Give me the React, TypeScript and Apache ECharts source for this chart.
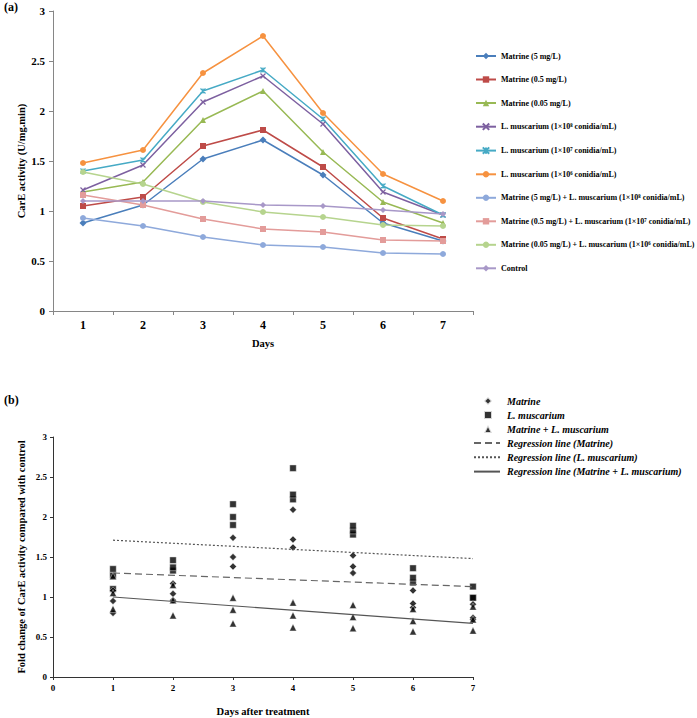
import React, { useEffect, useRef } from "react";
import * as echarts from "echarts";

// ---------- Panel (a) data ----------
const days = ["1", "2", "3", "4", "5", "6", "7"];
const matrine5 = [0.88, 1.06, 1.52, 1.71, 1.36, 0.88, 0.70];
const matrine05 = [1.05, 1.14, 1.65, 1.81, 1.44, 0.93, 0.72];
const matrine005 = [1.19, 1.29, 1.91, 2.20, 1.59, 1.09, 0.88];
const lm8 = [1.21, 1.46, 2.09, 2.35, 1.87, 1.19, 0.96];
const lm7 = [1.40, 1.51, 2.20, 2.41, 1.92, 1.25, 0.96];
const lm6 = [1.48, 1.61, 2.38, 2.75, 1.98, 1.37, 1.10];
const combo8 = [0.93, 0.85, 0.74, 0.66, 0.64, 0.58, 0.57];
const combo7 = [1.16, 1.06, 0.92, 0.82, 0.79, 0.71, 0.70];
const combo6 = [1.39, 1.27, 1.09, 0.99, 0.94, 0.86, 0.85];
const control = [1.10, 1.10, 1.10, 1.06, 1.05, 1.01, 0.97];
const yTicksA = ["0", "0.5", "1", "1.5", "2", "2.5", "3"];

// ---------- Panel (b) data ----------
const dayNumbers = [1, 2, 3, 4, 5, 6, 7];
const foldMatrine = [
  [0.80, 0.95, 1.08],
  [0.96, 1.04, 1.17],
  [1.38, 1.50, 1.74],
  [1.62, 1.72, 2.09],
  [1.30, 1.38, 1.52],
  [0.87, 0.92, 1.08],
  [0.72, 0.74, 0.91],
];
const foldLm = [
  [1.10, 1.27, 1.35],
  [1.33, 1.37, 1.46],
  [1.90, 2.00, 2.16],
  [2.22, 2.28, 2.61],
  [1.78, 1.83, 1.89],
  [1.18, 1.24, 1.36],
  [0.99, 0.99, 1.13],
];
const foldCombo = [
  [0.85, 1.05, 1.26],
  [0.77, 0.96, 1.15],
  [0.67, 0.84, 0.99],
  [0.62, 0.77, 0.93],
  [0.61, 0.75, 0.90],
  [0.57, 0.70, 0.85],
  [0.58, 0.72, 0.88],
];
const regDays = [1, 7];
const regMatrine = [1.30, 1.13];
const regLm = [1.71, 1.48];
const regCombo = [1.0, 0.67];

const legendA = [
  "Matrine (5 mg/L)",
  "Matrine (0.5 mg/L)",
  "Matrine (0.05 mg/L)",
  "L. muscarium (1×10⁸ conidia/mL)",
  "L. muscarium (1×10⁷ conidia/mL)",
  "L. muscarium (1×10⁶ conidia/mL)",
  "Matrine (5 mg/L) + L. muscarium (1×10⁸ conidia/mL)",
  "Matrine (0.5 mg/L) + L. muscarium (1×10⁷ conidia/mL)",
  "Matrine (0.05 mg/L) + L. muscarium (1×10⁶ conidia/mL)",
  "Control",
];
const legendScatterB = ["Matrine", "L. muscarium", "Matrine + L. muscarium"];
const legendLinesB = [
  "Regression line (Matrine)",
  "Regression line (L. muscarium)",
  "Regression line (Matrine + L. muscarium)",
];

const FONT = "'Liberation Serif', 'Times New Roman', serif";

const X_PATH = "path://M0,0L10,10M10,0L0,10";
const STAR_PATH = "path://M0,0L10,10M10,0L0,10M5,0L5,10";

function lineSeries(name: string, data: number[], color: string, symbol: string, size = 6, stroke = false) {
  return {
    type: "line",
    name,
    xAxisIndex: 0,
    yAxisIndex: 0,
    data,
    symbol,
    symbolSize: size,
    showSymbol: true,
    lineStyle: { color, width: 1.5 },
    itemStyle: stroke
      ? { color, borderColor: color, borderWidth: 1.2 }
      : { color, borderWidth: 0 },
    emphasis: { disabled: true },
  };
}

function scatterData(groups: number[][]) {
  const out: number[][] = [];
  groups.forEach((vals, i) => vals.forEach((v) => out.push([dayNumbers[i], v])));
  return out;
}

function regData(vals: number[]) {
  return vals.map((v, i) => [regDays[i], v]);
}

export default function App() {
  const ref = useRef<HTMLDivElement>(null);
  useEffect(() => {
    document.body.style.margin = "0";
    const chart = echarts.init(ref.current!, null, { renderer: "svg" });
    const axisLabelA = { color: "#000", fontFamily: FONT, fontWeight: "bold", fontSize: 11 };
    const axisLabelB = { color: "#000", fontFamily: FONT, fontWeight: "bold", fontSize: 9 };
    const nameStyle = { color: "#000", fontFamily: FONT, fontWeight: "bold", fontSize: 10.5 };
    const legendTextB = {
      fontFamily: FONT,
      fontWeight: "bold",
      fontStyle: "italic",
      fontSize: 10,
      lineHeight: 10,
      color: "#000",
    };
    const option: any = {
      animation: false,
      backgroundColor: "#fff",
      textStyle: { fontFamily: FONT },
      grid: [
        { left: 53, top: 11, width: 420, height: 300 },
        { left: 53, top: 437, width: 420, height: 241 },
      ],
      xAxis: [
        {
          type: "category",
          gridIndex: 0,
          data: days,
          boundaryGap: true,
          name: "Days",
          nameLocation: "middle",
          nameGap: 27,
          nameMoveOverlap: false,
          nameTextStyle: nameStyle,
          axisLine: { lineStyle: { color: "#868686", width: 1 } },
          axisTick: { show: true, length: 4, lineStyle: { color: "#868686" } },
          axisLabel: { ...axisLabelA, fontSize: 12, margin: 8 },
          splitLine: { show: false },
        },
        {
          type: "value",
          gridIndex: 1,
          min: 0,
          max: 7,
          interval: 1,
          name: "Days after treatment",
          nameLocation: "middle",
          nameGap: 29,
          nameMoveOverlap: false,
          nameTextStyle: nameStyle,
          axisLine: { lineStyle: { color: "#333", width: 1 } },
          axisTick: { show: true, length: 3, lineStyle: { color: "#333" } },
          axisLabel: { ...axisLabelB, margin: 6 },
          splitLine: { show: false },
        },
      ],
      yAxis: [
        {
          type: "value",
          gridIndex: 0,
          min: 0,
          max: 3,
          interval: 0.5,
          name: "CarE activity (U/mg.min)",
          nameLocation: "middle",
          nameGap: 26,
          nameMoveOverlap: false,
          nameTextStyle: nameStyle,
          axisLine: { show: true, lineStyle: { color: "#868686", width: 1 } },
          axisTick: { show: true, length: 4, lineStyle: { color: "#868686" } },
          axisLabel: {
            ...axisLabelA,
            margin: 8,
            formatter: (v: number) => yTicksA[Math.round(v / 0.5)] ?? String(v),
          },
          splitLine: { show: false },
        },
        {
          type: "value",
          gridIndex: 1,
          min: 0,
          max: 3,
          interval: 0.5,
          name: "Fold change of CarE activity compared with control",
          nameLocation: "middle",
          nameGap: 26,
          nameMoveOverlap: false,
          nameTextStyle: nameStyle,
          axisLine: { show: true, lineStyle: { color: "#333", width: 1 } },
          axisTick: { show: true, length: 3, lineStyle: { color: "#333" } },
          axisLabel: { ...axisLabelB, margin: 6 },
          splitLine: { show: false },
        },
      ],
      legend: [
        {
          orient: "vertical",
          left: 475,
          top: 52,
          padding: 0,
          itemWidth: 20,
          itemHeight: 8,
          itemGap: 15.5,
          selectedMode: false,
          textStyle: { fontFamily: FONT, fontWeight: "bold", fontSize: 8, lineHeight: 8, color: "#000" },
          data: legendA,
        },
        {
          orient: "vertical",
          left: 483,
          top: 396,
          padding: 0,
          itemWidth: 8,
          itemHeight: 8,
          itemGap: 4,
          selectedMode: false,
          textStyle: { ...legendTextB, padding: [0, 0, 0, 10] },
          data: legendScatterB,
        },
        {
          orient: "vertical",
          left: 473,
          top: 438,
          padding: 0,
          itemWidth: 26,
          itemHeight: 8,
          itemGap: 4.3,
          selectedMode: false,
          textStyle: { ...legendTextB, padding: [0, 0, 0, 2] },
          data: legendLinesB.map((name) => ({
            name,
            itemStyle: { opacity: 0, color: "rgba(0,0,0,0)", borderWidth: 0 },
          })),
        },
      ],
      graphic: [
        { type: "text", left: 4, top: 1, style: { text: "(a)", font: `bold 12px ${FONT}`, fill: "#000" } },
        { type: "text", left: 4, top: 394, style: { text: "(b)", font: `bold 12px ${FONT}`, fill: "#000" } },
      ],
      series: [
        lineSeries(legendA[0], matrine5, "#4A7EBB", "diamond", 7),
        lineSeries(legendA[1], matrine05, "#BE4B48", "rect", 6),
        lineSeries(legendA[2], matrine005, "#98B954", "triangle", 6),
        lineSeries(legendA[3], lm8, "#7D60A0", X_PATH, 5, true),
        lineSeries(legendA[4], lm7, "#46AAC5", STAR_PATH, 5, true),
        lineSeries(legendA[5], lm6, "#F69240", "circle", 6),
        lineSeries(legendA[6], combo8, "#8EA9DB", "circle", 6),
        lineSeries(legendA[7], combo7, "#E39C9A", "rect", 6),
        lineSeries(legendA[8], combo6, "#B6D48E", "circle", 6),
        lineSeries(legendA[9], control, "#A898C8", "diamond", 6),
        {
          type: "line",
          name: legendLinesB[0],
          xAxisIndex: 1,
          yAxisIndex: 1,
          data: regData(regMatrine),
          symbol: "none",
          lineStyle: { color: "#666", width: 1.2, type: [7, 4] },
          itemStyle: { color: "#666" },
          emphasis: { disabled: true },
        },
        {
          type: "line",
          name: legendLinesB[1],
          xAxisIndex: 1,
          yAxisIndex: 1,
          data: regData(regLm),
          symbol: "none",
          lineStyle: { color: "#555", width: 1.2, type: [2, 2] },
          itemStyle: { color: "#555" },
          emphasis: { disabled: true },
        },
        {
          type: "line",
          name: legendLinesB[2],
          xAxisIndex: 1,
          yAxisIndex: 1,
          data: regData(regCombo),
          symbol: "none",
          lineStyle: { color: "#555", width: 1.2, type: "solid" },
          itemStyle: { color: "#555" },
          emphasis: { disabled: true },
        },
        {
          type: "scatter",
          name: legendScatterB[1],
          xAxisIndex: 1,
          yAxisIndex: 1,
          data: scatterData(foldLm),
          symbol: "rect",
          symbolSize: 6.5,
          itemStyle: { color: "#000", borderColor: "#fff", borderWidth: 0.5 },
          emphasis: { disabled: true },
        },
        {
          type: "scatter",
          name: legendScatterB[0],
          xAxisIndex: 1,
          yAxisIndex: 1,
          data: scatterData(foldMatrine),
          symbol: "diamond",
          symbolSize: 7,
          itemStyle: { color: "#000", borderColor: "#fff", borderWidth: 0.5 },
          emphasis: { disabled: true },
        },
        {
          type: "scatter",
          name: legendScatterB[2],
          xAxisIndex: 1,
          yAxisIndex: 1,
          data: scatterData(foldCombo),
          symbol: "triangle",
          symbolSize: 7,
          itemStyle: { color: "#000", borderColor: "#fff", borderWidth: 0.5 },
          emphasis: { disabled: true },
        },
      ],
    };
    chart.setOption(option);
    return () => chart.dispose();
  }, []);
  return <div ref={ref} style={{ width: 697, height: 718 }} />;
}
